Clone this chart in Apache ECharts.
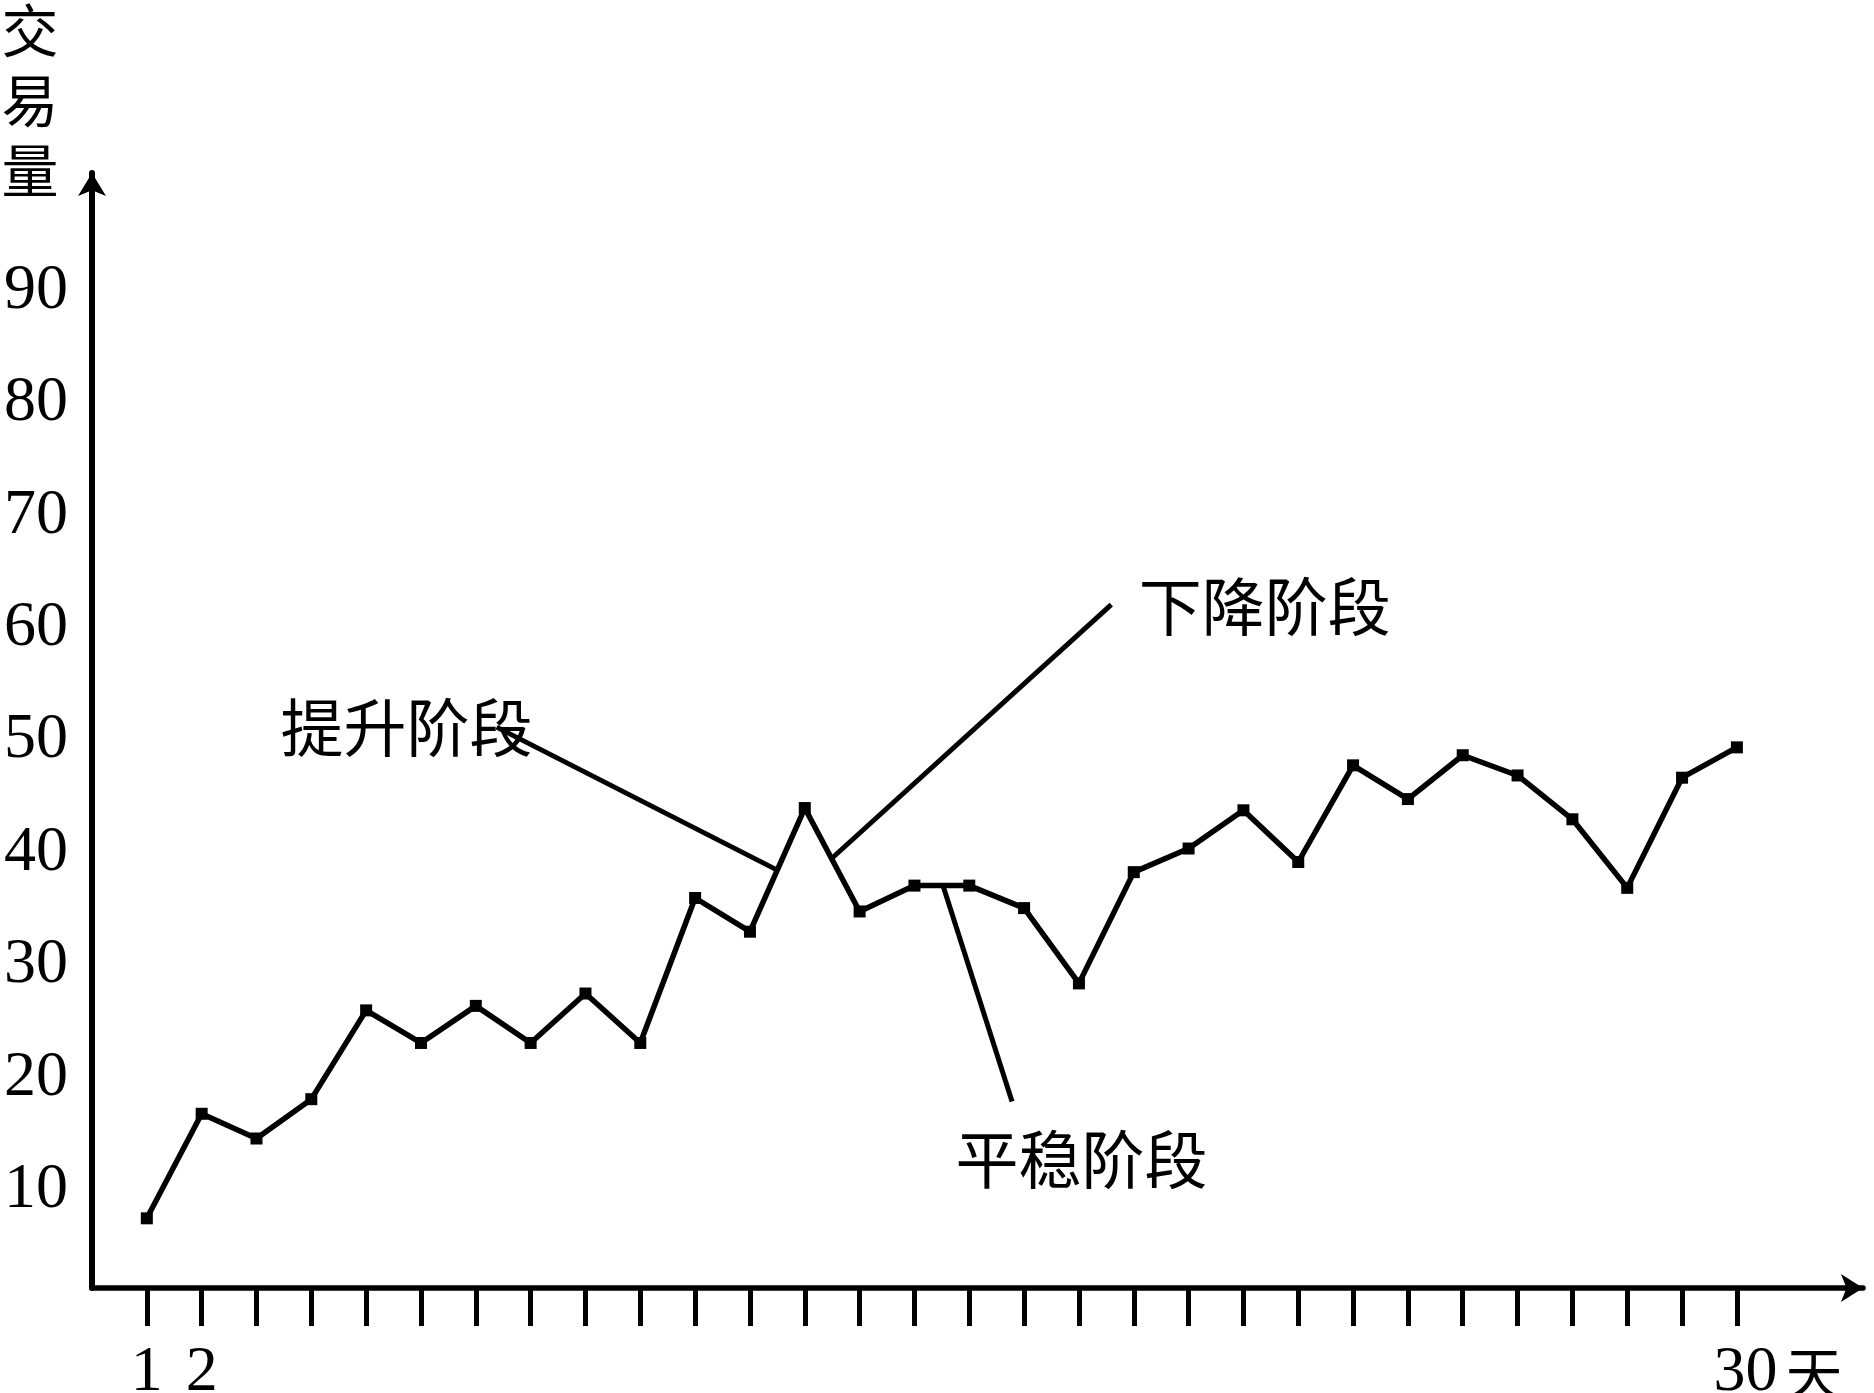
<!DOCTYPE html>
<html><head><meta charset="utf-8">
<script src="https://cdn.jsdelivr.net/npm/echarts@6/dist/echarts.min.js"></script>
<style>html,body{margin:0;padding:0;background:#fff}#c{width:1874px;height:1393px}</style>
</head><body><div id="c"></div>
<script>
// ---- data ----
const days = [1,2,3,4,5,6,7,8,9,10,11,12,13,14,15,16,17,18,19,20,21,22,23,24,25,26,27,28,29,30];
const volumes = [7.5,16.8,14.6,18.1,26.0,23.1,26.4,23.1,27.5,23.1,36.0,33.0,44.0,34.8,37.1,37.1,35.1,28.4,38.3,40.4,43.8,39.2,47.8,44.8,48.7,46.9,43.0,36.9,46.7,49.4];
const yTickValues = [10,20,30,40,50,60,70,80,90];
const xLabelValues = [1,2,30];
const xUnit = '天';
const yName = '交易量';
// annotation anchors in data units (day, volume)
const stageNames = ['提升阶段','下降阶段','平稳阶段'];
const stageTextAt = [[3.43,51.2],[19.08,62.0],[15.74,12.8]];
const stageLineFrom = [[7.38,51.2],[18.59,62.1],[15.52,37.1]];
const stageLineTo = [[12.49,38.5],[13.51,39.6],[16.78,17.9]];

const FONT = '"Liberation Serif","Noto Sans CJK SC",serif';
const CJK = '"Noto Sans CJK SC","Liberation Serif",sans-serif';

const chart = echarts.init(document.getElementById('c'), null, {renderer:'canvas'});
chart.setOption({
  animation: false,
  backgroundColor: '#fff',
  grid: {left: 92, right: 11, top: 173, bottom: 105, containLabel: false, outerBoundsMode: 'none'},
  xAxis: {
    type: 'value', min: 0, max: 32.3,
    axisLine: {show: true, onZero: false, symbol: ['none','arrow'], symbolSize: [21,22],
      lineStyle: {color: '#000', width: 5.5}},
    axisTick: {show: true, customValues: days, length: 38, inside: false,
      lineStyle: {color: '#000', width: 5}},
    axisLabel: {show: true, customValues: xLabelValues, margin: 53, color: '#000',
      fontFamily: FONT, fontSize: 64,
      formatter: v => v === 30 ? '{s|}{n|30}{u|' + xUnit + '}' : String(v),
      rich: {
        s: {width: 82},
        n: {fontFamily: FONT, fontSize: 64, color: '#000'},
        u: {fontFamily: CJK, fontSize: 57, color: '#000', padding: [0,0,0,8]}
      }},
    splitLine: {show: false}
  },
  yAxis: {
    type: 'value', min: 1.3, max: 100.5,
    name: yName.split('').join('\n'), nameLocation: 'end', nameGap: -32,
    nameTextStyle: {fontFamily: CJK, fontSize: 57, lineHeight: 70, color: '#000',
      padding: [0,124,0,0]},
    axisLine: {show: true, onZero: false, symbol: ['none','arrow'], symbolSize: [21,23],
      lineStyle: {color: '#000', width: 6}},
    axisTick: {show: false},
    axisLabel: {show: true, customValues: yTickValues, margin: 24, color: '#000',
      fontFamily: FONT, fontSize: 64},
    splitLine: {show: false}
  },
  series: [{
    type: 'line',
    data: days.map((d, i) => [d, volumes[i]]),
    symbol: 'rect', symbolSize: 12, showAllSymbol: true,
    lineStyle: {color: '#000', width: 5.5},
    itemStyle: {color: '#000'},
    markLine: {
      silent: true, symbol: ['none','none'], animation: false,
      label: {show: false},
      lineStyle: {color: '#000', width: 5, type: 'solid'},
      data: stageNames.map((n, i) => [{coord: stageLineFrom[i]}, {coord: stageLineTo[i]}])
    },
    markPoint: {
      silent: true, animation: false,
      data: stageNames.map((n, i) => ({
        coord: stageTextAt[i], symbol: 'circle', symbolSize: 1,
        itemStyle: {color: 'rgba(0,0,0,0)'},
        label: {show: true, position: 'right', distance: 0, formatter: n,
          fontFamily: CJK, fontSize: 63, color: '#000'}
      }))
    }
  }]
});
</script>
</body></html>
